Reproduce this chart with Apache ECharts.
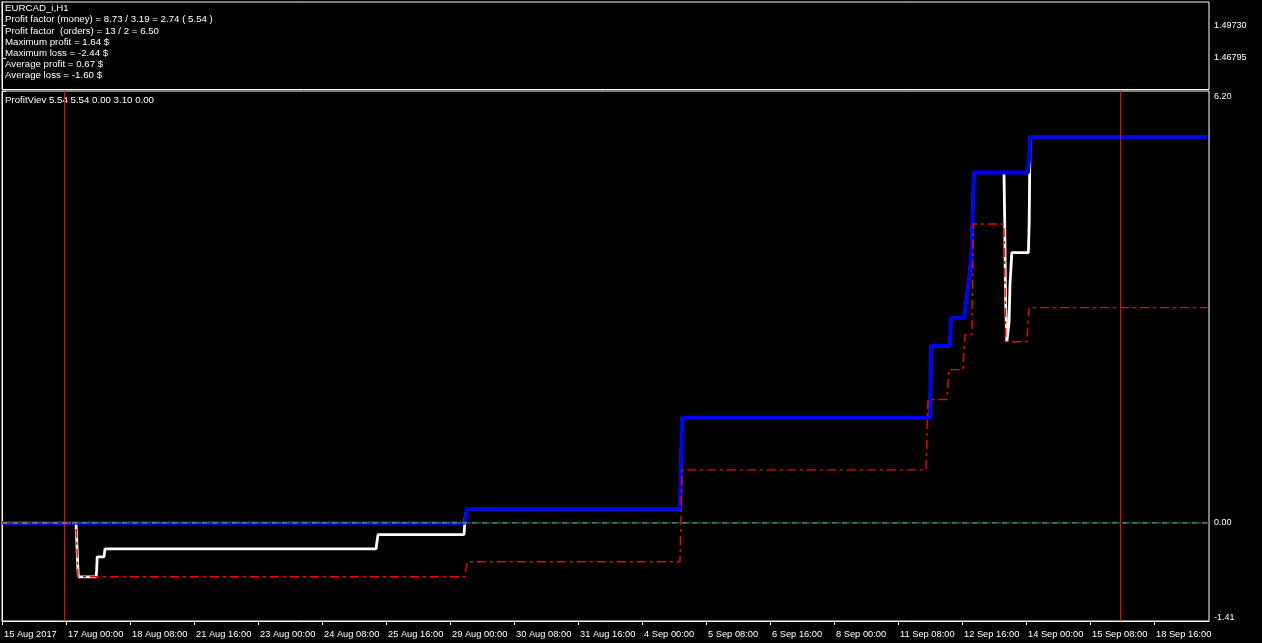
<!DOCTYPE html>
<html>
<head>
<meta charset="utf-8">
<script src="https://cdn.jsdelivr.net/npm/echarts@6/dist/echarts.min.js"></script>
<style>
html,body{margin:0;padding:0;background:#000;}
#chart{width:1262px;height:643px;}
</style>
</head>
<body>
<div id="chart"></div>
<script>
// ---- text ----
const infoLines = [
  'EURCAD_i,H1',
  'Profit factor (money) = 8.73 / 3.19 = 2.74 ( 5.54 )',
  'Profit factor  (orders) = 13 / 2 = 6.50',
  'Maximum profit = 1.64 $',
  'Maximum loss = -2.44 $',
  'Average profit = 0.67 $',
  'Average loss = -1.60 $'
];
const indicatorLabel = 'ProfitViev 5.54 5.54 0.00 3.10 0.00';

// ---- x axis (bar index, hourly bars, label every 32 bars) ----
const xTickBars = [0,32,64,96,128,160,192,224,256,288,320,352,384,416,448,480,512,544,576];
const xTickLabels = ['15 Aug 2017','17 Aug 00:00','18 Aug 08:00','21 Aug 16:00','23 Aug 00:00',
  '24 Aug 08:00','25 Aug 16:00','29 Aug 00:00','30 Aug 08:00','31 Aug 16:00','4 Sep 00:00',
  '5 Sep 08:00','6 Sep 16:00','8 Sep 00:00','11 Sep 08:00','12 Sep 16:00','14 Sep 00:00',
  '15 Sep 08:00','18 Sep 16:00'];

// ---- y axes ----
const priceTicks = [1.49730, 1.46795];
const profitTicks = [6.20, 0.00, -1.41];

// ---- series: [bar index, value] ----
const bluePoints = [
  [0,0],[231.5,0],[232.5,0.20],[339,0.20],[340,1.51],[464,1.51],[464.5,2.54],[474,2.54],
  [474.5,2.94],[481,2.94],[482,3.17],[483,3.17],[483.5,3.49],[484,3.49],[484.8,3.89],
  [485.5,4.64],[486,5.03],[513,5.03],[513.5,5.20],[514,5.54],[602.5,5.54]
];
const whitePoints = [
  [0,0],[37,0],[37.3,-0.2],[37.8,-0.57],[38.2,-0.775],[47,-0.775],[47.3,-0.70],[47.6,-0.49],
  [51,-0.49],[51.5,-0.373],[187,-0.373],[188,-0.17],[231,-0.17],[231.5,0.05],[232.5,0.20],
  [339,0.20],[340,1.51],[464,1.51],[464.5,2.54],[474,2.54],[474.5,2.94],[481,2.94],[482,3.17],
  [483,3.17],[483.5,3.49],[484,3.49],[484.8,3.89],[485.5,4.64],[486,5.03],[501,5.03],
  [501.3,4.42],[501.8,3.17],[502.4,2.60],[503,2.60],[503.5,2.87],[504,3.42],[504.9,3.88],
  [513.2,3.88],[513.6,4.31],[514,5.54],[602.5,5.54]
];
const redPoints = [
  [0,0],[37,0],[38,-0.775],[231.5,-0.775],[232.5,-0.56],[339,-0.56],[340,0.76],[462,0.76],
  [463,1.77],[472.5,1.77],[473.5,2.20],[480.5,2.20],[481.5,2.70],[485,2.70],[485.5,4.29],
  [501,4.29],[502,2.60],[512.5,2.60],[513.5,3.09],[602.5,3.09]
];
const zeroLine = [[0,0],[603.5,0]];
const separatorBars = [31, 559];

const FONT = 'Liberation Sans';
const chart = echarts.init(document.getElementById('chart'));
const opt = {
  backgroundColor: '#000',
  animation: false,
  title: [
    { text: infoLines.join('\n'), left: 5, top: 3, padding: 0, z: 1,
      textStyle: { color: '#fff', fontSize: 9.7, fontWeight: 'normal', lineHeight: 11.2, fontFamily: FONT } },
    { text: indicatorLabel, left: 5, top: 94.4, padding: 0, z: 1,
      textStyle: { color: '#fff', fontSize: 9.7, fontWeight: 'normal', lineHeight: 11.2, fontFamily: FONT } }
  ],
  grid: [
    { left: 2, top: 2, width: 1207, height: 87.5, show: true, borderColor: '#fff', borderWidth: 1 },
    { left: 2, top: 91, width: 1207, height: 530, show: true, borderColor: '#fff', borderWidth: 1 }
  ],
  xAxis: [
    { type: 'value', gridIndex: 0, min: 0, max: 603.5, show: false },
    { type: 'value', gridIndex: 1, min: 0, max: 603.5,
      axisLine: { show: true, onZero: false, lineStyle: { color: '#fff', width: 1 } },
      axisTick: { show: true, length: 4, customValues: xTickBars, lineStyle: { color: '#fff' } },
      splitLine: { show: false },
      axisLabel: { customValues: xTickBars, color: '#fff', fontSize: 9.3, fontFamily: FONT,
        align: 'left', margin: 9, padding: [0,0,0,2], hideOverlap: false,
        formatter: v => { const i = xTickBars.indexOf(Math.round(v)); return i >= 0 ? xTickLabels[i] : ''; } }
    }
  ],
  yAxis: [
    { type: 'value', gridIndex: 0, position: 'right', min: 1.43951, max: 1.51852,
      axisLine: { show: true, lineStyle: { color: '#fff' } },
      axisTick: { show: true, length: 4, customValues: priceTicks, lineStyle: { color: '#fff' } },
      splitLine: { show: false },
      axisLabel: { customValues: priceTicks, color: '#fff', fontSize: 9, fontFamily: FONT, margin: 5,
        padding: [2,0,0,0], formatter: v => v.toFixed(5) } },
    { type: 'value', gridIndex: 1, position: 'right', min: -1.41, max: 6.20,
      axisLine: { show: true, lineStyle: { color: '#fff' } },
      axisTick: { show: true, length: 4, customValues: profitTicks, lineStyle: { color: '#fff' } },
      splitLine: { show: false },
      axisLabel: { customValues: profitTicks, color: '#fff', fontSize: 9, fontFamily: FONT, margin: 5,
        formatter: v => {
          if (Math.abs(v - 6.20) < 1e-6) return '{t|' + v.toFixed(2) + '}';
          if (Math.abs(v + 1.41) < 1e-6) return '{b|' + v.toFixed(2) + '}';
          return v.toFixed(2);
        },
        rich: {
          t: { color: '#fff', fontSize: 9, fontFamily: FONT, padding: [12,0,0,0] },
          b: { color: '#fff', fontSize: 9, fontFamily: FONT, padding: [0,0,6,0] }
        } } }
  ],
  series: [
    { type: 'line', xAxisIndex: 1, yAxisIndex: 1, data: whitePoints, symbol: 'none', z: 2,
      lineStyle: { color: '#fff', width: 2.8 } },
    { type: 'line', xAxisIndex: 1, yAxisIndex: 1, data: bluePoints, symbol: 'none', z: 3,
      lineStyle: { color: '#0000ff', width: 3.8 } },
    { type: 'line', xAxisIndex: 1, yAxisIndex: 1, data: redPoints, symbol: 'none', z: 4,
      lineStyle: { color: '#ff0000', width: 1.4, type: [9,4,3,4] },
      markLine: { silent: true, symbol: 'none', label: { show: false },
        lineStyle: { color: '#ff0000', width: 1, type: 'solid' },
        data: separatorBars.map(b => ({ xAxis: b })) } },
    { type: 'line', xAxisIndex: 1, yAxisIndex: 1, data: zeroLine, symbol: 'none', z: 5,
      lineStyle: { color: '#8093a8', width: 1.2, type: [5,5] } },
    { type: 'line', xAxisIndex: 1, yAxisIndex: 1, data: zeroLine, symbol: 'none', z: 5,
      lineStyle: { color: '#0a8a0a', width: 1.2, type: [4,6], dashOffset: -5 } }
  ]
};
chart.setOption(opt);
</script>
</body>
</html>
